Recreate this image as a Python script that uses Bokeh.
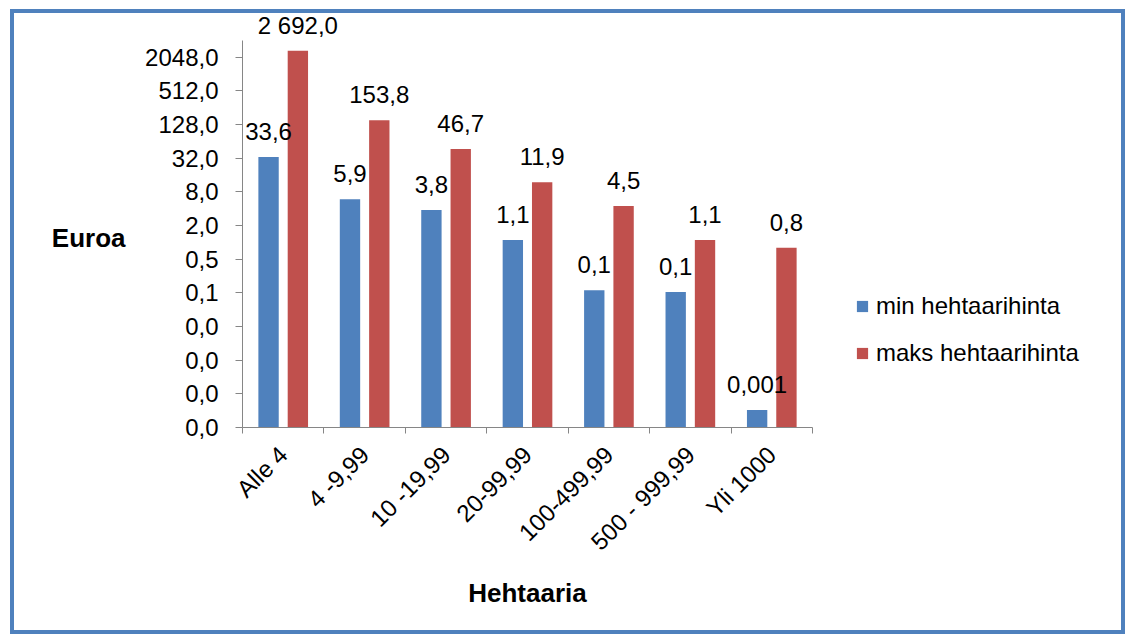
import numpy as np
from bokeh.plotting import figure
from bokeh.core.properties import value
from bokeh.models import (ColumnDataSource, Range1d, FixedTicker, CustomJSTickFormatter,
                          LabelSet, Legend, LegendItem, LogAxis, LinearAxis)
from bokeh.layouts import column
from bokeh.embed import file_html
from bokeh.resources import INLINE

# ---- data ----
categories = ["Alle 4", "4 -9,99", "10 -19,99", "20-99,99", "100-499,99", "500 - 999,99", "Yli 1000"]
min_price = [33.6, 5.9, 3.8, 1.1, 0.14, 0.13, 0.001]
max_price = [2692.0, 153.8, 46.7, 11.9, 4.5, 1.1, 0.8]
series_names = ["min hehtaarihinta", "maks hehtaarihinta"]
y_axis_title = "Euroa"
x_axis_title = "Hehtaaria"
y_ticks = [2.0 ** k for k in range(-11, 12, 2)]
y_min, y_max = 2.0 ** -11, 2.0 ** 12

BLUE = "#4F81BD"
RED = "#C0504D"
AXIS = "#868686"
FONT = "Liberation Sans"
FS = "24px"
FS_BOLD = "26px"

# ---- geometry of the plot (pixels) ----
W, H = 1107, 617
LEFT, BOTTOM, TOP_GAP = 228, 203, 27
AXIS_W = 570          # width of the category axis
AXIS_H = H - BOTTOM - TOP_GAP
n = len(categories)
x_end = n * (W - LEFT) / AXIS_W
px_per_pow2 = AXIS_H / (np.log2(y_max) - np.log2(y_min))
y_end = 2.0 ** (np.log2(y_max) + TOP_GAP / px_per_pow2)


def fmt(v):
    if v < 0.05:
        s = f"{v:.3f}"
    else:
        s = f"{v:,.1f}".replace(",", " ")
    return s.replace(".", ",")


centers = np.arange(n) + 0.5
dodge = 0.18
bar_w = 0.25

src_min = ColumnDataSource(dict(x=centers - dodge, top=min_price,
                                label=[fmt(v) for v in min_price]))
src_max = ColumnDataSource(dict(x=centers + dodge, top=max_price,
                                label=[fmt(v) for v in max_price]))

p = figure(width=W, height=H,
           x_range=Range1d(0, x_end), y_range=Range1d(y_min, y_end),
           y_axis_type="log", output_backend="svg", toolbar_location=None,
           min_border_left=LEFT, min_border_top=0, min_border_right=0, min_border_bottom=BOTTOM)
p.grid.visible = False
p.outline_line_color = None
p.background_fill_color = "white"
p.border_fill_color = "white"

r1 = p.vbar(x="x", top="top", bottom=y_min, width=bar_w, source=src_min,
            fill_color=BLUE, line_color=None)
r2 = p.vbar(x="x", top="top", bottom=y_min, width=bar_w, source=src_max,
            fill_color=RED, line_color=None)

for src in (src_min, src_max):
    p.add_layout(LabelSet(x="x", y="top", text="label", source=src, y_offset=17,
                          text_align="center", text_baseline="alphabetic",
                          text_font=value(FONT), text_font_size=value(FS),
                          text_color="black"))

# y axis
ya = p.yaxis[0]
ya.bounds = (y_min, y_max)
ya.ticker = FixedTicker(ticks=y_ticks, minor_ticks=[])
ya.formatter = CustomJSTickFormatter(code="return tick.toFixed(1).replace('.', ',');")
ya.axis_line_color = AXIS
ya.major_tick_line_color = AXIS
ya.major_tick_in = 0
ya.major_tick_out = 7
ya.minor_tick_line_color = None
ya.major_label_standoff = 17
ya.major_label_text_font = FONT
ya.major_label_text_font_size = FS
ya.major_label_text_color = "black"

# horizontal y-axis title, drawn as the single label of an outer axis
title_axis = LogAxis(ticker=FixedTicker(ticks=[2.0 ** 0.29], minor_ticks=[]),
                     formatter=CustomJSTickFormatter(args=dict(t=y_axis_title), code="return t;"),
                     axis_line_color=None, major_tick_line_color=None, minor_tick_line_color=None,
                     major_tick_in=0, major_tick_out=0, major_label_standoff=17,
                     major_label_text_font=FONT, major_label_text_font_style="bold",
                     major_label_text_font_size=FS_BOLD, major_label_text_color="black")
p.add_layout(title_axis, "left")

# x axis
xa = p.xaxis[0]
xa.bounds = (0, n)
xa.ticker = FixedTicker(ticks=list(centers), minor_ticks=list(range(n + 1)))
xa.formatter = CustomJSTickFormatter(args=dict(labels=categories),
                                     code="return labels[Math.floor(tick)];")
xa.axis_line_color = AXIS
xa.major_tick_line_color = None
xa.major_tick_in = 0
xa.major_tick_out = 6
xa.minor_tick_line_color = AXIS
xa.minor_tick_in = 0
xa.minor_tick_out = 6
xa.major_label_orientation = np.pi / 4
xa.major_label_standoff = 17
xa.major_label_text_font = FONT
xa.major_label_text_font_size = FS
xa.major_label_text_color = "black"

# x-axis title centred under the category axis, drawn as the label of an outer axis
xtitle_axis = LinearAxis(ticker=FixedTicker(ticks=[n / 2], minor_ticks=[]),
                         formatter=CustomJSTickFormatter(args=dict(t=x_axis_title), code="return t;"),
                         axis_line_color=None, major_tick_line_color=None, minor_tick_line_color=None,
                         major_tick_in=0, major_tick_out=0, major_label_standoff=10,
                         major_label_text_font=FONT, major_label_text_font_style="bold",
                         major_label_text_font_size=FS_BOLD, major_label_text_color="black")
p.add_layout(xtitle_axis, "below")

legend = Legend(items=[LegendItem(label=series_names[0], renderers=[r1]),
                       LegendItem(label=series_names[1], renderers=[r2])],
                location=(613, 60), orientation="vertical",
                border_line_color=None, background_fill_alpha=0,
                padding=0, margin=0, spacing=19,
                glyph_width=14, glyph_height=14, label_height=24, label_standoff=7,
                label_text_font=FONT, label_text_font_size=FS, label_text_color="black")
p.add_layout(legend)

layout = column(p, styles={"border": f"4px solid {BLUE}", "margin-left": "10px", "margin-top": "9px"})

open("out.html", "w").write(file_html(layout, INLINE))
